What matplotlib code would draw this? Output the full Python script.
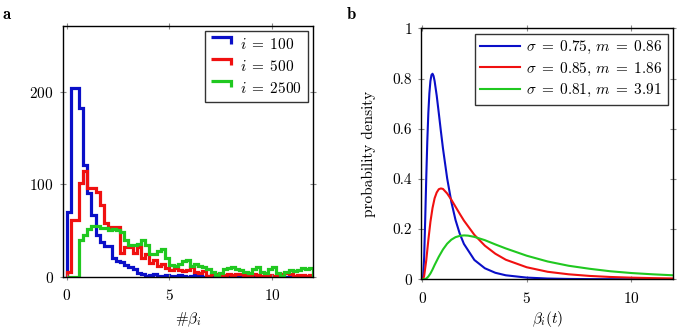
import numpy as np
import matplotlib
matplotlib.use("Agg")
import matplotlib.pyplot as plt
from matplotlib.legend_handler import HandlerBase
from matplotlib.lines import Line2D

plt.rcParams['font.family'] = 'serif'
plt.rcParams['font.serif'] = ['cmr10']
plt.rcParams['mathtext.fontset'] = 'cm'
plt.rcParams['axes.formatter.use_mathtext'] = True
plt.rcParams['font.size'] = 11

# ---------------- data: panel a (histograms) ----------------
bin_edges = np.linspace(0, 12, 61)
hist_labels = [r'$i\;=\;100$', r'$i\;=\;500$', r'$i\;=\;2500$']
counts_100 = [70, 204, 204, 182, 121, 90, 67, 45, 37, 33, 33, 20, 17, 16, 13, 11, 8, 4, 3, 1,
              2, 3, 1, 1, 2, 1, 1, 2, 1, 0, 1, 2, 1, 0, 1, 0, 0, 0, 0, 0,
              0, 0, 0, 0, 0, 0, 0, 0, 0, 0, 0, 0, 0, 0, 0, 0, 0, 0, 0, 0]
counts_500 = [5, 61, 61, 101, 114, 96, 96, 92, 78, 58, 54, 54, 54, 26, 32, 32, 26, 32, 20, 24,
              15, 18, 12, 14, 9, 7, 9, 7, 6, 7, 10, 5, 4, 6, 1, 3, 3, 2, 2, 3,
              2, 3, 3, 2, 2, 3, 2, 1, 1, 2, 1, 1, 3, 4, 3, 1, 2, 2, 1, 2]
counts_2500 = [0, 0, 0, 40, 45, 52, 55, 55, 53, 53, 50, 52, 50, 48, 40, 34, 34, 35, 40, 34,
               25, 24, 28, 30, 20, 13, 12, 14, 17, 18, 12, 14, 12, 11, 8, 5, 2, 4, 8, 9,
               10, 8, 7, 5, 4, 8, 10, 5, 4, 8, 10, 4, 1, 5, 7, 6, 7, 9, 8, 9]
hist_colors = ['#0a0fc8', '#f01010', '#20c820']

# ---------------- data: panel b (densities) ----------------
curve_labels = [r'$\sigma\;=\;0.75$, $m\;=\;0.86$',
                r'$\sigma\;=\;0.85$, $m\;=\;1.86$',
                r'$\sigma\;=\;0.81$, $m\;=\;3.91$']
x_blue = [0, 0.05, 0.1, 0.15, 0.2, 0.25, 0.3, 0.35, 0.4, 0.45, 0.5, 0.55, 0.6, 0.7, 0.8, 0.9,
          1.0, 1.2, 1.4, 1.6, 1.8, 2.0, 2.5, 3, 3.5, 4, 5, 6, 7, 8, 10, 12]
y_blue = [0, 0.008, 0.087, 0.236, 0.401, 0.548, 0.662, 0.741, 0.790, 0.814, 0.819, 0.810, 0.790,
          0.732, 0.662, 0.590, 0.521, 0.402, 0.308, 0.236, 0.182, 0.141, 0.077, 0.044, 0.026,
          0.016, 0.0068, 0.0031, 0.0015, 0.0008, 0.0002, 0.0001]
x_red = [0, 0.05, 0.1, 0.2, 0.3, 0.4, 0.5, 0.6, 0.7, 0.8, 0.9, 1.0, 1.2, 1.4, 1.6, 1.8, 2.0,
         2.5, 3, 3.5, 4, 5, 6, 7, 8, 9, 10, 11, 12]
y_red = [0, 0.001, 0.013, 0.075, 0.156, 0.229, 0.284, 0.323, 0.346, 0.359, 0.362, 0.360,
         0.342, 0.317, 0.289, 0.261, 0.234, 0.177, 0.134, 0.102, 0.078, 0.048, 0.030, 0.020,
         0.0135, 0.0093, 0.0066, 0.0048, 0.0035]
x_green = [0, 0.1, 0.2, 0.3, 0.4, 0.5, 0.6, 0.8, 1.0, 1.2, 1.4, 1.6, 1.8, 2.0, 2.2, 2.5, 3,
           3.5, 4, 5, 6, 7, 8, 9, 10, 11, 12]
y_green = [0, 0.0002, 0.003, 0.011, 0.023, 0.039, 0.057, 0.090, 0.119, 0.142, 0.158, 0.168,
           0.173, 0.175, 0.174, 0.169, 0.156, 0.139, 0.123, 0.094, 0.071, 0.054, 0.042, 0.032,
           0.025, 0.020, 0.016]
curve_colors = ['#0a0fc8', '#f01010', '#20c820']


class StepHandler(HandlerBase):
    def create_artists(self, legend, orig_handle, xdescent, ydescent, width, height, fontsize, trans):
        x0 = -xdescent
        y0 = -ydescent
        line = Line2D([x0, x0 + width, x0 + width],
                      [y0 + height * 1.15, y0 + height * 1.15, y0 + height * 0.55],
                      color=orig_handle.get_color(), lw=orig_handle.get_linewidth(),
                      solid_joinstyle='miter', solid_capstyle='butt')
        line.set_transform(trans)
        return [line]


def style_axes(ax, pad):
    for s in ax.spines.values():
        s.set_linewidth(1.0)
        s.set_color('black')
    ax.tick_params(which='both', direction='inout', length=5, width=0.8, color='#888888',
                   top=True, right=True, labelsize=11)
    ax.tick_params(axis='x', pad=pad)
    ax.tick_params(axis='y', pad=4)


fig = plt.figure(figsize=(6.85, 3.32), dpi=100)

# ---------------- panel a ----------------
ax1 = fig.add_axes([0.0915, 0.1666, 0.3658, 0.755])
handles = []
for vals, col, lab in zip([counts_100, counts_500, counts_2500], hist_colors, hist_labels):
    ax1.stairs(vals, bin_edges, baseline=0, color=col, lw=2.3, joinstyle='miter')
    handles.append(Line2D([], [], color=col, lw=2.3, label=lab))
ax1.set_xlim(-0.2, 12)
ax1.set_ylim(0, 271)
ax1.set_xticks([0, 5, 10])
ax1.set_yticks([0, 100, 200])
ax1.set_xlabel(r'$\#\beta_i$', fontsize=11, labelpad=5)
style_axes(ax1, 6)
leg1 = ax1.legend(handles=handles, loc='upper right', handler_map={Line2D: StepHandler()},
                  fontsize=11, frameon=True, fancybox=False, edgecolor='black',
                  handlelength=1.3, handletextpad=0.6, borderpad=0.4, labelspacing=0.45,
                  borderaxespad=0.35)
leg1.get_frame().set_linewidth(1.0)
fig.text(0.004, 0.955, 'a', fontfamily='cmb10', fontsize=12, va='center')

# ---------------- panel b ----------------
ax2 = fig.add_axes([0.6146, 0.1587, 0.3683, 0.756])
for xs, ys, col, lab in zip([x_blue, x_red, x_green], [y_blue, y_red, y_green],
                            curve_colors, curve_labels):
    ax2.plot(xs, ys, color=col, lw=1.5, label=lab)
ax2.set_xlim(-0.05, 12)
ax2.set_ylim(0, 1)
ax2.set_xticks([0, 5, 10])
ax2.set_yticks([0, 0.2, 0.4, 0.6, 0.8, 1])
ax2.set_yticklabels(['0', '0.2', '0.4', '0.6', '0.8', '1'])
ax2.set_xlabel(r'$\beta_i(t)$', fontsize=11, labelpad=2)
ax2.set_ylabel('probability density', fontsize=11, labelpad=12)
style_axes(ax2, 6)
leg2 = ax2.legend(loc='upper right', fontsize=11, frameon=True, fancybox=False,
                  edgecolor='black', handlelength=2.6, handletextpad=0.4, borderpad=0.35,
                  labelspacing=0.3, borderaxespad=0.35)
leg2.get_frame().set_linewidth(1.0)
fig.text(0.506, 0.955, 'b', fontfamily='cmb10', fontsize=12, va='center')

fig.savefig('out.png', dpi=100)
